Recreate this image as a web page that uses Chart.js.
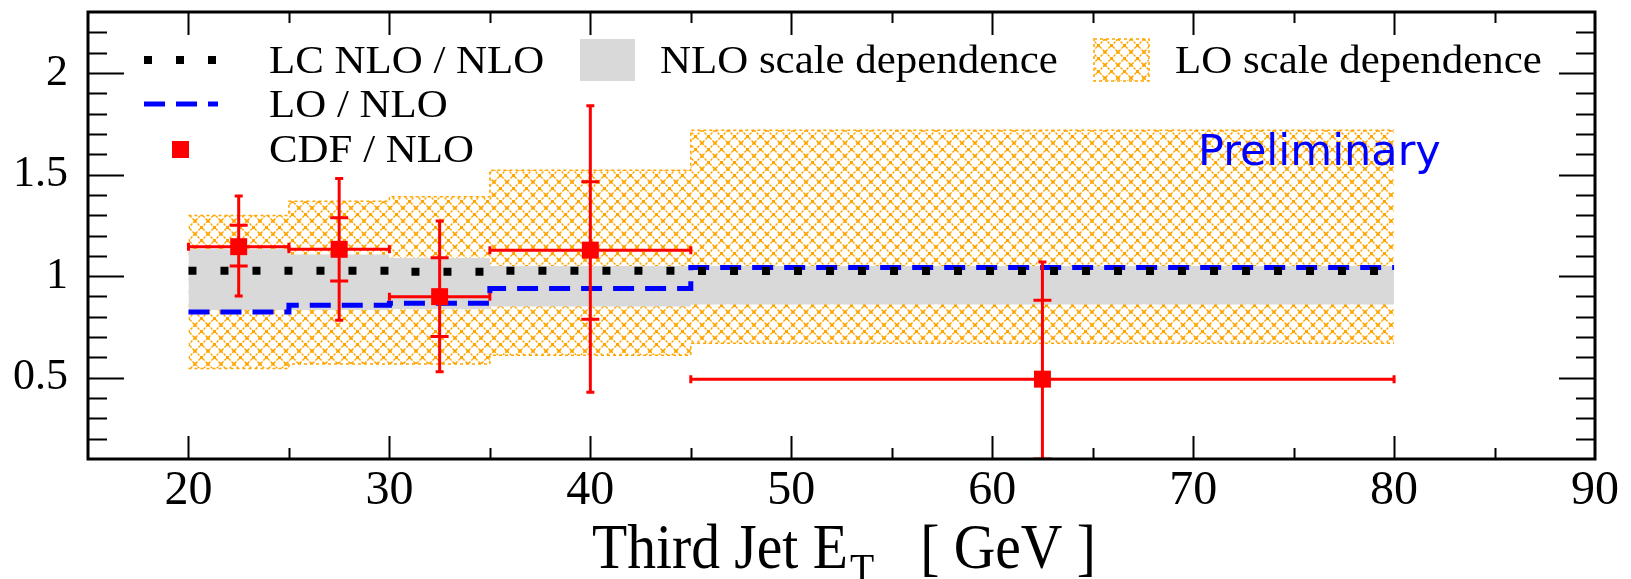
<!DOCTYPE html>
<html>
<head>
<meta charset="utf-8">
<script src="https://cdn.jsdelivr.net/npm/chart.js@4"></script>
<style>
  html, body { margin: 0; padding: 0; background: #fff; }
</style>
</head>
<body>
<canvas id="ratioChart" width="1631" height="579"></canvas>
<script>
// Bin edges of the third jet ET (GeV)
const binEdges = [20, 25, 30, 35, 45, 80];

// Theory ratios, one value per bin
const lcNlo = [1.027, 1.027, 1.022, 1.027, 1.025];
const loNlo = [0.824, 0.857, 0.866, 0.939, 1.042];
const nloBandHi = [1.132, 1.106, 1.089, 1.05, 1.05];
const nloBandLo = [0.833, 0.833, 0.837, 0.85, 0.861];
const loBandHi = [1.299, 1.368, 1.391, 1.521, 1.718];
const loBandLo = [0.545, 0.567, 0.567, 0.611, 0.670];

// CDF / NLO data points with errors
const cdfX = [22.5, 27.5, 32.5, 40, 62.5];
const cdfY = [1.145, 1.132, 0.899, 1.128, 0.493];
const cdfXLo = [20, 25, 30, 35, 45];
const cdfXHi = [25, 30, 35, 45, 80];
const cdfTotHi = [1.394, 1.481, 1.271, 1.839, 1.069];
const cdfTotLo = [0.902, 0.783, 0.529, 0.429, -0.2];
const cdfStatHi = [1.25, 1.287, 1.091, 1.464, 0.881];
const cdfStatLo = [1.05, 0.976, 0.703, 0.788, 0.10];

// Axis tick labels
const xTicks = [20, 30, 40, 50, 60, 70, 80, 90];
const yTicks = [0.5, 1, 1.5, 2];

const RED = '#ff0000';
const BLUE = '#0000ff';
const ORANGE = '#ffa500';
const GREY = '#d9d9d9';
const SERIF = '"Liberation Serif", "Times New Roman", serif';

// stepped series: one point per left bin edge, last value repeated at the end
function stepPoints(vals) {
  return binEdges.map((e, i) => ({ x: e, y: vals[Math.min(i, vals.length - 1)] }));
}

function makeHatch() {
  const c = document.createElement('canvas');
  c.width = 13; c.height = 13;
  const g = c.getContext('2d');
  g.strokeStyle = ORANGE;
  g.lineWidth = 1.4;
  g.setLineDash([2.5, 1.2]);
  g.beginPath();
  g.moveTo(0, 0); g.lineTo(13, 13);
  g.moveTo(13, 0); g.lineTo(0, 13);
  g.stroke();
  g.fillStyle = ORANGE;
  g.fillRect(5, 5, 3, 3);
  g.fillRect(0, 0, 1.5, 1.5); g.fillRect(11.5, 0, 1.5, 1.5);
  g.fillRect(0, 11.5, 1.5, 1.5); g.fillRect(11.5, 11.5, 1.5, 1.5);
  return g.createPattern(c, 'repeat');
}
const hatch = makeHatch();

// draw text squeezed / stretched horizontally
function drawScaledText(ctx, text, x, y, font, sx) {
  ctx.save();
  ctx.font = font;
  ctx.textAlign = 'left';
  ctx.textBaseline = 'alphabetic';
  ctx.translate(x, y);
  ctx.scale(sx, 1);
  ctx.fillText(text, 0, 0);
  const w = ctx.measureText(text).width * sx;
  ctx.restore();
  return w;
}

// Error bars for the CDF points
const errorBarsPlugin = {
  id: 'errorBars',
  afterDatasetsDraw(chart) {
    const { ctx, chartArea, scales: { x, y } } = chart;
    ctx.save();
    ctx.beginPath();
    ctx.rect(chartArea.left, chartArea.top, chartArea.right - chartArea.left, chartArea.bottom - chartArea.top);
    ctx.clip();
    ctx.strokeStyle = RED;
    ctx.lineWidth = 3;
    cdfX.forEach((xv, i) => {
      const px = x.getPixelForValue(xv);
      const py = y.getPixelForValue(cdfY[i]);
      const xl = x.getPixelForValue(cdfXLo[i]);
      const xr = x.getPixelForValue(cdfXHi[i]);
      const yt = y.getPixelForValue(cdfTotHi[i]);
      const yb = y.getPixelForValue(cdfTotLo[i]);
      const st = y.getPixelForValue(cdfStatHi[i]);
      const sb = y.getPixelForValue(cdfStatLo[i]);
      ctx.beginPath();
      // horizontal bar + caps
      ctx.moveTo(xl, py); ctx.lineTo(xr, py);
      ctx.moveTo(xl, py - 4); ctx.lineTo(xl, py + 4);
      ctx.moveTo(xr, py - 4); ctx.lineTo(xr, py + 4);
      // vertical total error + caps
      ctx.moveTo(px, yt); ctx.lineTo(px, yb);
      ctx.moveTo(px - 4, yt); ctx.lineTo(px + 4, yt);
      ctx.moveTo(px - 4, yb); ctx.lineTo(px + 4, yb);
      // statistical error ticks
      ctx.moveTo(px - 9, st); ctx.lineTo(px + 9, st);
      ctx.moveTo(px - 9, sb); ctx.lineTo(px + 9, sb);
      ctx.stroke();
    });
    ctx.restore();
  }
};

// Frame, inward ticks, legend and texts
const decorPlugin = {
  id: 'decor',
  afterDraw(chart) {
    const { ctx, chartArea: a, scales: { x, y } } = chart;
    ctx.save();
    ctx.strokeStyle = '#000';
    ctx.lineWidth = 2;
    ctx.beginPath();
    for (let k = 2; k <= 22; k++) {
      const v = k / 10;
      const py = Math.round(y.getPixelForValue(v)) + 0.5;
      const major = k % 5 === 0;
      const len = major ? 36 : 19;
      ctx.moveTo(a.left, py); ctx.lineTo(a.left + len, py);
      ctx.moveTo(a.right, py); ctx.lineTo(a.right - len, py);
    }
    for (let v = 20; v < 90; v += 5) {
      const px = Math.round(x.getPixelForValue(v)) + 0.5;
      const len = v % 10 === 0 ? 23 : 11;
      ctx.moveTo(px, a.bottom); ctx.lineTo(px, a.bottom - len);
      ctx.moveTo(px, a.top); ctx.lineTo(px, a.top + len);
    }
    ctx.stroke();
    ctx.lineWidth = 3;
    ctx.strokeRect(a.left, a.top, a.right - a.left, a.bottom - a.top);

    // legend samples
    ctx.lineCap = 'butt';
    ctx.strokeStyle = '#000';
    ctx.lineWidth = 8;
    ctx.setLineDash([8, 24]);
    ctx.beginPath(); ctx.moveTo(144, 60); ctx.lineTo(217, 60); ctx.stroke();
    ctx.strokeStyle = BLUE;
    ctx.lineWidth = 5;
    ctx.setLineDash([21, 11]);
    ctx.beginPath(); ctx.moveTo(144, 104); ctx.lineTo(218, 104); ctx.stroke();
    ctx.setLineDash([]);
    ctx.fillStyle = RED;
    ctx.fillRect(172, 141, 17, 17);
    ctx.fillStyle = GREY;
    ctx.fillRect(580, 39, 55, 42);
    ctx.fillStyle = hatch;
    ctx.fillRect(1094, 39, 55, 42);
    ctx.strokeStyle = ORANGE;
    ctx.lineWidth = 1.5;
    ctx.setLineDash([3, 3]);
    ctx.strokeRect(1094, 39, 55, 42);
    ctx.setLineDash([]);

    // legend texts
    ctx.fillStyle = '#000';
    const lf = '39px ' + SERIF;
    drawScaledText(ctx, 'LC NLO / NLO', 269, 73, lf, 1.1);
    drawScaledText(ctx, 'LO / NLO', 269, 117, lf, 1.1);
    drawScaledText(ctx, 'CDF / NLO', 269, 162, lf, 1.1);
    drawScaledText(ctx, 'NLO scale dependence', 660, 73, lf, 1.1);
    drawScaledText(ctx, 'LO scale dependence', 1175, 73, lf, 1.1);

    // preliminary tag
    ctx.fillStyle = BLUE;
    drawScaledText(ctx, 'Preliminary', 1198, 165, '43px "DejaVu Sans", sans-serif', 1);

    // x axis title with subscript
    ctx.fillStyle = '#000';
    let tx = 592;
    tx += drawScaledText(ctx, 'Third Jet E', tx, 568, '64px ' + SERIF, 0.9);
    tx += drawScaledText(ctx, 'T', tx + 2, 584, '44px ' + SERIF, 0.9);
    drawScaledText(ctx, '[ GeV ]', tx + 48, 568, '64px ' + SERIF, 0.9);
    ctx.restore();
  }
};

const baseLine = { stepped: 'before', pointRadius: 0, tension: 0, fill: false };

new Chart(document.getElementById('ratioChart').getContext('2d'), {
  type: 'line',
  data: {
    datasets: [
      {
        label: 'CDF / NLO',
        data: cdfX.map((xv, i) => ({ x: xv, y: cdfY[i] })),
        showLine: false,
        pointStyle: 'rect',
        pointRadius: 12,
        backgroundColor: RED,
        borderColor: RED,
        borderWidth: 0,
        order: 0
      },
      Object.assign({}, baseLine, {
        label: 'LC NLO / NLO',
        data: stepPoints(lcNlo),
        borderColor: '#000',
        borderWidth: 8,
        borderDash: [8, 24],
        order: 1
      }),
      Object.assign({}, baseLine, {
        label: 'LO / NLO',
        data: stepPoints(loNlo),
        borderColor: BLUE,
        borderWidth: 5,
        borderDash: [21, 11],
        order: 2
      }),
      Object.assign({}, baseLine, {
        label: 'NLO scale dependence',
        data: stepPoints(nloBandHi),
        borderWidth: 0,
        borderColor: 'rgba(0,0,0,0)',
        backgroundColor: GREY,
        fill: '+1',
        order: 3
      }),
      Object.assign({}, baseLine, {
        label: 'NLO low',
        data: stepPoints(nloBandLo),
        borderWidth: 0,
        borderColor: 'rgba(0,0,0,0)',
        order: 4
      }),
      Object.assign({}, baseLine, {
        label: 'LO scale dependence',
        data: stepPoints(loBandHi),
        borderWidth: 1.5,
        borderColor: ORANGE,
        borderDash: [3, 3],
        backgroundColor: hatch,
        fill: '+1',
        order: 5
      }),
      Object.assign({}, baseLine, {
        label: 'LO low',
        data: stepPoints(loBandLo),
        borderWidth: 1.5,
        borderColor: ORANGE,
        borderDash: [3, 3],
        order: 6
      })
    ]
  },
  options: {
    responsive: false,
    animation: false,
    devicePixelRatio: 1,
    layout: { padding: { left: 0, right: 36, top: 12, bottom: 0 } },
    plugins: { legend: { display: false }, tooltip: { enabled: false } },
    scales: {
      x: {
        type: 'linear',
        min: 15,
        max: 90,
        grid: { display: false, drawTicks: false },
        border: { display: false },
        afterBuildTicks: (s) => { s.ticks = xTicks.map(v => ({ value: v })); },
        afterFit: (s) => { s.height = 120; s.paddingLeft = 0; s.paddingRight = 0; },
        ticks: {
          autoSkip: false,
          maxRotation: 0,
          padding: 4,
          color: '#000',
          font: { family: SERIF, size: 48 },
          callback: (v) => String(v)
        }
      },
      y: {
        type: 'linear',
        min: 0.1,
        max: 2.3,
        grid: { display: false, drawTicks: false },
        border: { display: false },
        afterBuildTicks: (s) => { s.ticks = yTicks.map(v => ({ value: v })); },
        afterFit: (s) => { s.width = 88; s.paddingTop = 0; s.paddingBottom = 0; },
        ticks: {
          autoSkip: false,
          padding: 20,
          color: '#000',
          font: { family: SERIF, size: 44 },
          callback: (v) => String(v)
        }
      }
    }
  },
  plugins: [errorBarsPlugin, decorPlugin]
});
</script>
</body>
</html>
